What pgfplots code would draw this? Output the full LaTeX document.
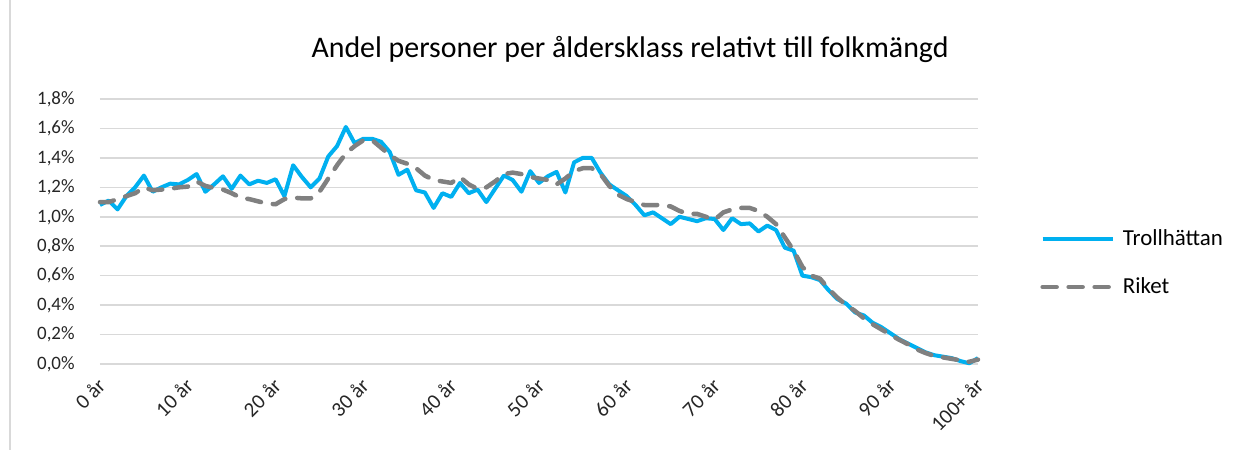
\documentclass[border=0pt]{standalone}
\usepackage{fontspec}
\setmainfont{Carlito}
\usepackage{pgfplots}
\usepackage{pgfplotstable}
\pgfplotsset{compat=1.18}
\definecolor{Troll}{HTML}{00B0F0}
\definecolor{Riket}{HTML}{808080}
\definecolor{Grid}{HTML}{D9D9D9}

% andel (%) per ålder, 0..100+
\pgfplotstableread{
age troll riket
0 1.08 1.10
1 1.11 1.10
2 1.05 1.12
3 1.14 1.14
4 1.20 1.16
5 1.28 1.20
6 1.17 1.18
7 1.20 1.185
8 1.225 1.19
9 1.22 1.20
10 1.25 1.205
11 1.29 1.24
12 1.17 1.21
13 1.22 1.195
14 1.275 1.185
15 1.19 1.16
16 1.28 1.13
17 1.22 1.12
18 1.245 1.105
19 1.23 1.09
20 1.255 1.085
21 1.14 1.12
22 1.35 1.13
23 1.27 1.125
24 1.20 1.125
25 1.26 1.17
26 1.41 1.26
27 1.48 1.35
28 1.61 1.43
29 1.50 1.48
30 1.53 1.52
31 1.53 1.52
32 1.51 1.47
33 1.44 1.42
34 1.285 1.38
35 1.32 1.36
36 1.18 1.33
37 1.165 1.28
38 1.06 1.25
39 1.16 1.24
40 1.135 1.23
41 1.23 1.27
42 1.16 1.22
43 1.185 1.19
44 1.10 1.20
45 1.19 1.24
46 1.28 1.29
47 1.25 1.30
48 1.17 1.29
49 1.31 1.27
50 1.23 1.26
51 1.275 1.25
52 1.305 1.22
53 1.165 1.26
54 1.37 1.31
55 1.40 1.33
56 1.40 1.33
57 1.30 1.29
58 1.22 1.21
59 1.18 1.15
60 1.14 1.12
61 1.08 1.10
62 1.01 1.08
63 1.03 1.08
64 0.99 1.08
65 0.95 1.07
66 1.00 1.04
67 0.985 1.02
68 0.97 1.02
69 0.99 1.00
70 0.985 0.98
71 0.91 1.03
72 0.99 1.05
73 0.95 1.06
74 0.955 1.06
75 0.90 1.04
76 0.94 1.00
77 0.91 0.95
78 0.79 0.86
79 0.77 0.77
80 0.60 0.66
81 0.59 0.60
82 0.57 0.58
83 0.50 0.51
84 0.44 0.45
85 0.41 0.40
86 0.35 0.36
87 0.33 0.31
88 0.28 0.27
89 0.25 0.235
90 0.21 0.20
91 0.17 0.165
92 0.14 0.135
93 0.11 0.10
94 0.08 0.075
95 0.06 0.055
96 0.05 0.045
97 0.04 0.035
98 0.02 0.025
99 0.005 0.015
100 0.04 0.03
}\folk

\begin{document}
\begin{tikzpicture}
\useasboundingbox (-50bp,-43bp) rectangle (571bp,182bp);
\draw[Grid, line width=0.75bp] (-45bp,-43bp) -- (-45bp,182bp);
\begin{axis}[
 at={(0,0)}, anchor=south west, scale only axis,
 width=439bp, height=132.5bp,
 xmin=0, xmax=100, ymin=0, ymax=1.8,
 clip=false,
 axis line style={draw=none},
 tick style={draw=none},
 ytick distance=0.2,
 ymajorgrids, grid style={Grid, line width=0.75bp},
 xtick={0,10,...,100},
 xticklabels={0 år,10 år,20 år,30 år,40 år,50 år,60 år,70 år,80 år,90 år,100+ år},
 yticklabel={\pgfmathprintnumber[fixed,fixed zerofill,precision=1,use comma,assume math mode=true]{\tick}\%},
 ticklabel style={text=black!85},
 yticklabel style={font=\fontsize{9.5}{11}\selectfont, anchor=east, inner sep=0pt, xshift=-12.5bp},
 xticklabel style={font=\fontsize{10.5}{12}\selectfont, xshift=1bp, yshift=-9bp, rotate=45, anchor=east, inner sep=0pt},
 legend cell align=left,
 legend style={at={(1.0706,0.381)}, anchor=west, draw=none, fill=none,
   font=\fontsize{11.5}{13}\selectfont, inner sep=0pt, row sep=14bp, column sep=4bp,
   nodes={inner sep=0pt, text height=8bp, text depth=2bp}},
 legend image code/.code={\draw[#1] (0bp,0bp) -- (35bp,0bp);},
]
\addplot[Troll, line width=2bp, line join=round] table[x=age, y=troll] {\folk};
\addplot[Riket, line width=2.25bp, line cap=round, line join=round,
  dash pattern=on 7bp off 6bp] table[x=age, y=riket] {\folk};
\legend{Trollhättan,Riket}
\end{axis}
\node[anchor=base, font=\fontsize{15}{18}\selectfont] at (265bp,153bp)
  {Andel personer per åldersklass relativt till folkmängd};
\end{tikzpicture}
\end{document}
